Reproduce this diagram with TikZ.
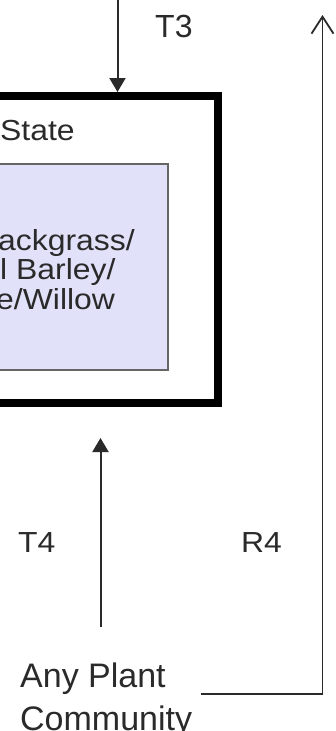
\documentclass[tikz,border=0pt]{standalone}
\usepackage{fontspec}
\setmainfont{Liberation Sans}
\newfontfamily\widesans[FakeStretch=1.1]{Liberation Sans}
\usetikzlibrary{arrows.meta}
\definecolor{ink}{HTML}{2A2A2A}
\definecolor{lav}{HTML}{E1E1FA}
\tikzset{>=Stealth,
  lbl/.style={font=\widesans\fontsize{29}{29}\selectfont,text=ink,inner sep=0pt,anchor=base west},
  biglbl/.style={lbl,font=\fontsize{34}{34}\selectfont},
  outerbox/.style={draw=black,line width=8pt,minimum width=278pt,minimum height=306.5pt,inner sep=0pt},
  innerbox/.style={draw=black!60,fill=lav,line width=2pt,minimum width=228pt,minimum height=206pt,inner sep=0pt},
  fwd/.style={draw=ink,line width=2pt,-{Triangle[length=14pt,width=16pt]}},
  back/.style={draw=ink,line width=1.8pt,-{Straight Barb[length=17pt,width=22pt]}}}

\begin{document}
\begin{tikzpicture}[x=1pt,y=-1pt]
  \useasboundingbox (0,0) rectangle (336,731);
  \fill[white] (0,0) rectangle (336,731);
  \clip (0,0) rectangle (336,731);

  % state box with the community inside
  \node[outerbox] (state) at (79,249.25) {};
  \node[innerbox] (veg) at (54,267) {};
  \node[lbl] (stname) at (0,140) {State};
  \node[lbl] (veg1) at (-2,250) {ackgrass/};
  \node[lbl] (veg2) at (0,279) {l Barley/};
  \node[lbl] (veg3) at (-4,309) {e/Willow};

  % source of T4 and R4
  \node[biglbl] (any) at (20,687) {Any Plant};
  \node[biglbl] (comm) at (20,730) {Community};

  % transitions
  \coordinate (t3) at (117.5,-5);
  \coordinate (t4) at (100.5,0);
  \coordinate (r4) at (322.5,15);
  \draw[fwd] (t3) -- (t3 |- state.north);
  \draw[fwd,shorten <=35pt,shorten >=31.5pt] (t4 |- any.north) -- (t4 |- state.south);
  \draw[back] ([xshift=35pt]any.south east) -| (r4);

  \node[lbl,font=\fontsize{32}{32}\selectfont] (t3lbl) at (155,37) {T3};
  \node[lbl] (t4lbl) at (18,552) {T4};
  \node[lbl] (r4lbl) at (241,552) {R4};
\end{tikzpicture}
\end{document}
